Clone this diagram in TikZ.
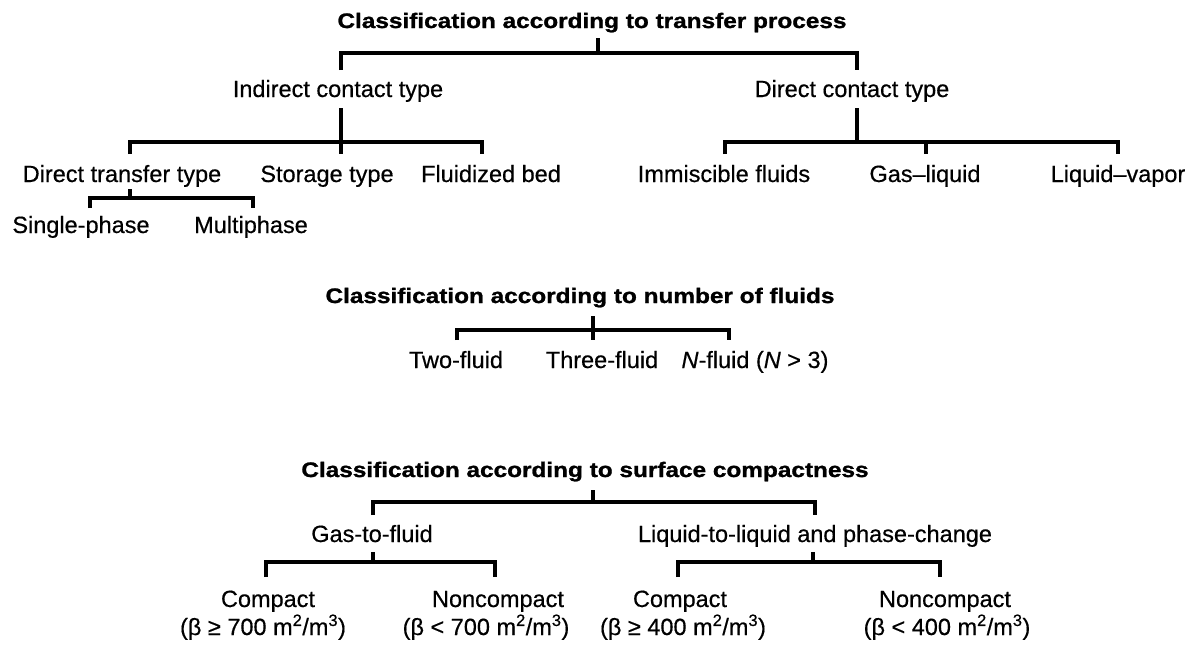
\documentclass[tikz,border=0pt]{standalone}
\usepackage{fontspec}
\setmainfont{Liberation Sans}[FakeBold=0.5]
\newfontfamily\headfont[FakeStretch=1.16,FakeBold=1.2]{Liberation Sans Bold}

\tikzset{
  lbl/.style={font=\fontsize{23.5}{28}\selectfont, anchor=base, inner sep=0pt},
  head/.style={font=\headfont\fontsize{21}{25}\selectfont, anchor=base, inner sep=0pt},
  link/.style={line width=3.3pt, line join=miter}
}

\begin{document}
\begin{tikzpicture}[x=1pt, y=-1pt]
\useasboundingbox (0,0) rectangle (1196,648);

% ---------- transfer process ----------
\node[head] (h1)  at (592,28)  {Classification according to transfer process};
\node[lbl]  (ind) at (338,97)  {Indirect contact type};
\node[lbl]  (dct) at (852,97)  {Direct contact type};
\node[lbl]  (dtt) at (122,182) {Direct transfer type};
\node[lbl]  (sto) at (327,182) {Storage type};
\node[lbl]  (flu) at (491,182) {Fluidized bed};
\node[lbl]  (imm) at (724,182) {Immiscible fluids};
\node[lbl]  (gl)  at (925,182) {Gas--liquid};
\node[lbl]  (lv)  at (1118,182) {Liquid--vapor};
\node[lbl]  (sp)  at (81,233)  {Single-phase};
\node[lbl]  (mp)  at (251,233) {Multiphase};

\coordinate (h1t) at (598,38);
\coordinate (a1) at (341,70);  \coordinate (a2) at (857,70);
\draw[link] (h1t) -- (598,53);
\draw[link] (a1) -- (341,53) -- (857,53) -- (a2);

\coordinate (indb) at (341,108);
\coordinate (d1) at (130,154); \coordinate (d2) at (341,154); \coordinate (d3) at (482,154);
\draw[link] (indb) -- (d2);
\draw[link] (d1) -- (130,142) -- (482,142) -- (d3);

\coordinate (dctb) at (857,108);
\coordinate (e1) at (725,154); \coordinate (e2) at (926,154); \coordinate (e3) at (1118,154);
\draw[link] (dctb) -- (857,142);
\draw[link] (e1) -- (725,142) -- (1118,142) -- (e3);
\draw[link] (926,142) -- (e2);

\coordinate (dttb) at (130,189);
\coordinate (f1) at (90,208); \coordinate (f2) at (253,208);
\draw[link] (dttb) -- (130,198);
\draw[link] (f1) -- (90,198) -- (253,198) -- (f2);

% ---------- number of fluids ----------
\node[head] (h2)    at (580,303) {Classification according to number of fluids};
\node[lbl]  (two)   at (456,368) {Two-fluid};
\node[lbl]  (three) at (602,368) {Three-fluid};
\node[lbl]  (nf)    at (755,368) {\textit{N}-fluid (\textit{N} > 3)};

\coordinate (h2t) at (593,316);
\coordinate (g1) at (457,340); \coordinate (g2) at (593,340); \coordinate (g3) at (729,340);
\draw[link] (h2t) -- (g2);
\draw[link] (g1) -- (457,330) -- (729,330) -- (g3);

% ---------- surface compactness ----------
\node[head] (h3)  at (585,477) {Classification according to surface compactness};
\node[lbl]  (gtf) at (372,542) {Gas-to-fluid};
\node[lbl]  (ltl) at (815,542) {Liquid-to-liquid and phase-change};
\node[lbl]  (c1)  at (268,607) {Compact};
\node[lbl]  (n1)  at (498,607) {Noncompact};
\node[lbl]  (c2)  at (680,607) {Compact};
\node[lbl]  (n2)  at (945,607) {Noncompact};
\node[lbl]  (b1)  at (263,635) {(β ≥ 700 m\textsuperscript{2}/m\textsuperscript{3})};
\node[lbl]  (b2)  at (486,635) {(β < 700 m\textsuperscript{2}/m\textsuperscript{3})};
\node[lbl]  (b3)  at (683,635) {(β ≥ 400 m\textsuperscript{2}/m\textsuperscript{3})};
\node[lbl]  (b4)  at (947,635) {(β < 400 m\textsuperscript{2}/m\textsuperscript{3})};

\coordinate (h3t) at (593,490);
\coordinate (k1) at (373,515); \coordinate (k2) at (815,515);
\draw[link] (h3t) -- (593,502);
\draw[link] (k1) -- (373,502) -- (815,502) -- (k2);

\coordinate (gtfb) at (373,552);
\coordinate (m1) at (266,577); \coordinate (m2) at (495,577);
\draw[link] (gtfb) -- (373,562);
\draw[link] (m1) -- (266,562) -- (495,562) -- (m2);

\coordinate (ltlb) at (813,552);
\coordinate (p1) at (678,577); \coordinate (p2) at (940,577);
\draw[link] (ltlb) -- (813,562);
\draw[link] (p1) -- (678,562) -- (940,562) -- (p2);
\end{tikzpicture}
\end{document}
